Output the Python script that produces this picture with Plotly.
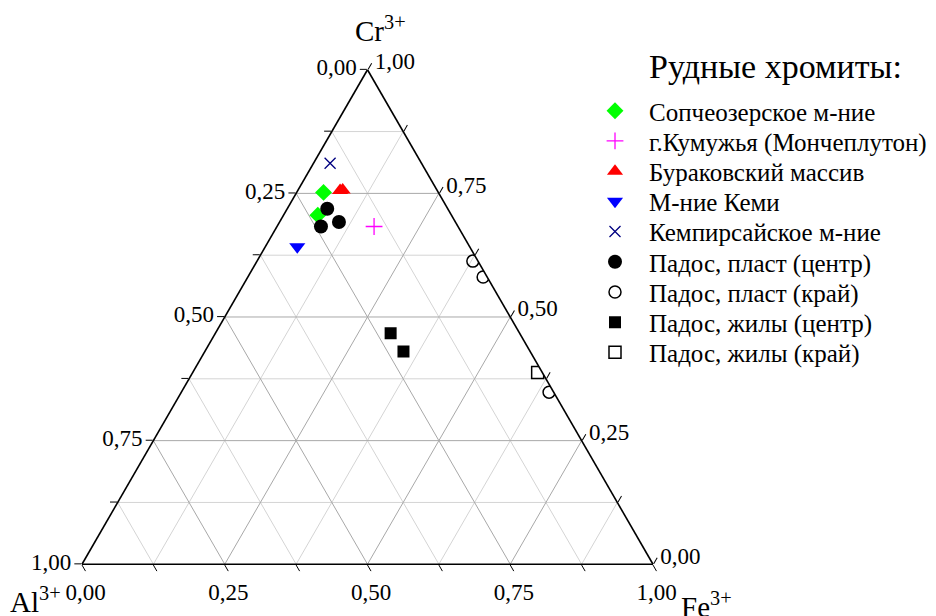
import plotly.graph_objects as go

# ---- data (Cr3+, Al3+, Fe3+ fractions) ----
series_names = [
    "Сопчеозерское м-ние",
    "г.Кумужья (Мончеплутон)",
    "Бураковский массив",
    "М-ние Кеми",
    "Кемпирсайское м-ние",
    "Падос, пласт (центр)",
    "Падос, пласт (край)",
    "Падос, жилы (центр)",
    "Падос, жилы (край)",
]
sop_cr = [0.752, 0.706]; sop_al = [0.201, 0.234]; sop_fe = [0.047, 0.060]
kum_cr = [0.683];        kum_al = [0.147];        kum_fe = [0.170]
bur_cr = [0.756, 0.757]; bur_al = [0.170, 0.165]; bur_fe = [0.074, 0.078]
kem_cr = [0.642];        kem_al = [0.302];        kem_fe = [0.056]
kemp_cr = [0.811];       kemp_al = [0.160];       kemp_fe = [0.029]
plc_cr = [0.719, 0.692, 0.683]; plc_al = [0.211, 0.204, 0.240]; plc_fe = [0.070, 0.104, 0.077]
ple_cr = [0.613, 0.581, 0.348]; ple_al = [0.009, 0.007, 0.008]; ple_fe = [0.378, 0.412, 0.644]
vc_cr = [0.467, 0.430];  vc_al = [0.226, 0.222];  vc_fe = [0.307, 0.348]
ve_cr = [0.388];         ve_al = [0.008];         ve_fe = [0.604]

tick_vals = [0, 0.125, 0.25, 0.375, 0.5, 0.625, 0.75, 0.875, 1.0]
tick_labels = ["0,00", "", "0,25", "", "0,50", "", "0,75", "", "1,00"]
major_grid = [0.25, 0.5, 0.75]
minor_grid = [0.125, 0.375, 0.625, 0.875]

FONT = "Liberation Serif"
W, H = 936, 616

fig = go.Figure()


def grid_trace(vals, color):
    a, b, c = [], [], []
    for v in vals:
        a += [v, v, None]; b += [1 - v, 0, None]; c += [0, 1 - v, None]
        a += [1 - v, 0, None]; b += [v, v, None]; c += [0, 1 - v, None]
        a += [1 - v, 0, None]; b += [0, 1 - v, None]; c += [v, v, None]
    return go.Scatterternary(a=a, b=b, c=c, mode="lines",
                             line=dict(color=color, width=1),
                             showlegend=False, hoverinfo="skip")


fig.add_trace(grid_trace(minor_grid, "#d4d4d4"))
fig.add_trace(grid_trace(major_grid, "#a8a8a8"))

styles = [
    (sop_cr, sop_al, sop_fe, dict(symbol="diamond", color="#00ff00", size=13)),
    (kum_cr, kum_al, kum_fe, dict(symbol="cross-thin", color="#ff00ff", size=12,
                                  line=dict(color="#ff00ff", width=1.3))),
    (bur_cr, bur_al, bur_fe, dict(symbol="triangle-up", color="#ff0000", size=14)),
    (kem_cr, kem_al, kem_fe, dict(symbol="triangle-down", color="#0000ff", size=14)),
    (kemp_cr, kemp_al, kemp_fe, dict(symbol="x-thin", color="#000080", size=11,
                                     line=dict(color="#000080", width=1.3))),
    (plc_cr, plc_al, plc_fe, dict(symbol="circle", color="#000000", size=14)),
    (ple_cr, ple_al, ple_fe, dict(symbol="circle-open", color="#000000", size=12,
                                  line=dict(color="#000000", width=1.5))),
    (vc_cr, vc_al, vc_fe, dict(symbol="square", color="#000000", size=12)),
    (ve_cr, ve_al, ve_fe, dict(symbol="square-open", color="#000000", size=12,
                               line=dict(color="#000000", width=1.5))),
]

legend_layouts = {}
for i, (cr, al, fe, mk) in enumerate(styles):
    key = "legend" if i == 0 else f"legend{i + 1}"
    fig.add_trace(go.Scatterternary(a=cr, b=al, c=fe, mode="markers",
                                    name=series_names[i], marker=mk,
                                    legend=key))
    yc = 103 + 30.2 * i
    legend_layouts[key] = dict(
        x=573 / W, y=1 - yc / H, xanchor="left", yanchor="middle",
        font=dict(family=FONT, size=25, color="black"),
        bgcolor="rgba(0,0,0,0)", borderwidth=0, itemwidth=58,
    )

rev_labels = tick_labels[::-1]
axis_common = dict(
    tickmode="array", tickvals=tick_vals, ticktext=rev_labels,
    ticks="outside", ticklen=7, tickcolor="black", tickwidth=1.2,
    linecolor="black", linewidth=1.6, showgrid=False,
    tickfont=dict(family=FONT, size=23, color="black"),
    title=dict(text=""), min=0,
)

fig.update_layout(
    width=W, height=H,
    margin=dict(l=0, r=0, t=0, b=0),
    paper_bgcolor="white",
    font=dict(family=FONT, color="black"),
    ternary=dict(
        sum=1,
        domain=dict(x=[74 / W, 645 / W], y=[59 / H, 555 / H]),
        bgcolor="white",
        aaxis=axis_common, baxis=axis_common, caxis=axis_common,
    ),
    annotations=[
        dict(text="Рудные хромиты:", x=639 / W, y=1 - 59 / H, xref="paper", yref="paper",
             xanchor="left", yanchor="middle", showarrow=False,
             font=dict(family=FONT, size=34, color="black")),
        dict(text="Cr<sup>3+</sup>", x=345 / W, y=1 - 1 / H, xref="paper", yref="paper",
             xanchor="left", yanchor="top", showarrow=False,
             font=dict(family=FONT, size=29, color="black")),
        dict(text="Al<sup>3+</sup>", x=0, y=1 - 572 / H, xref="paper", yref="paper",
             xanchor="left", yanchor="top", showarrow=False,
             font=dict(family=FONT, size=29, color="black")),
        dict(text="Fe<sup>3+</sup>", x=671 / W, y=1 - 577 / H, xref="paper", yref="paper",
             xanchor="left", yanchor="top", showarrow=False,
             font=dict(family=FONT, size=29, color="black")),
    ],
    **legend_layouts,
)

fig.write_html("out.html")
